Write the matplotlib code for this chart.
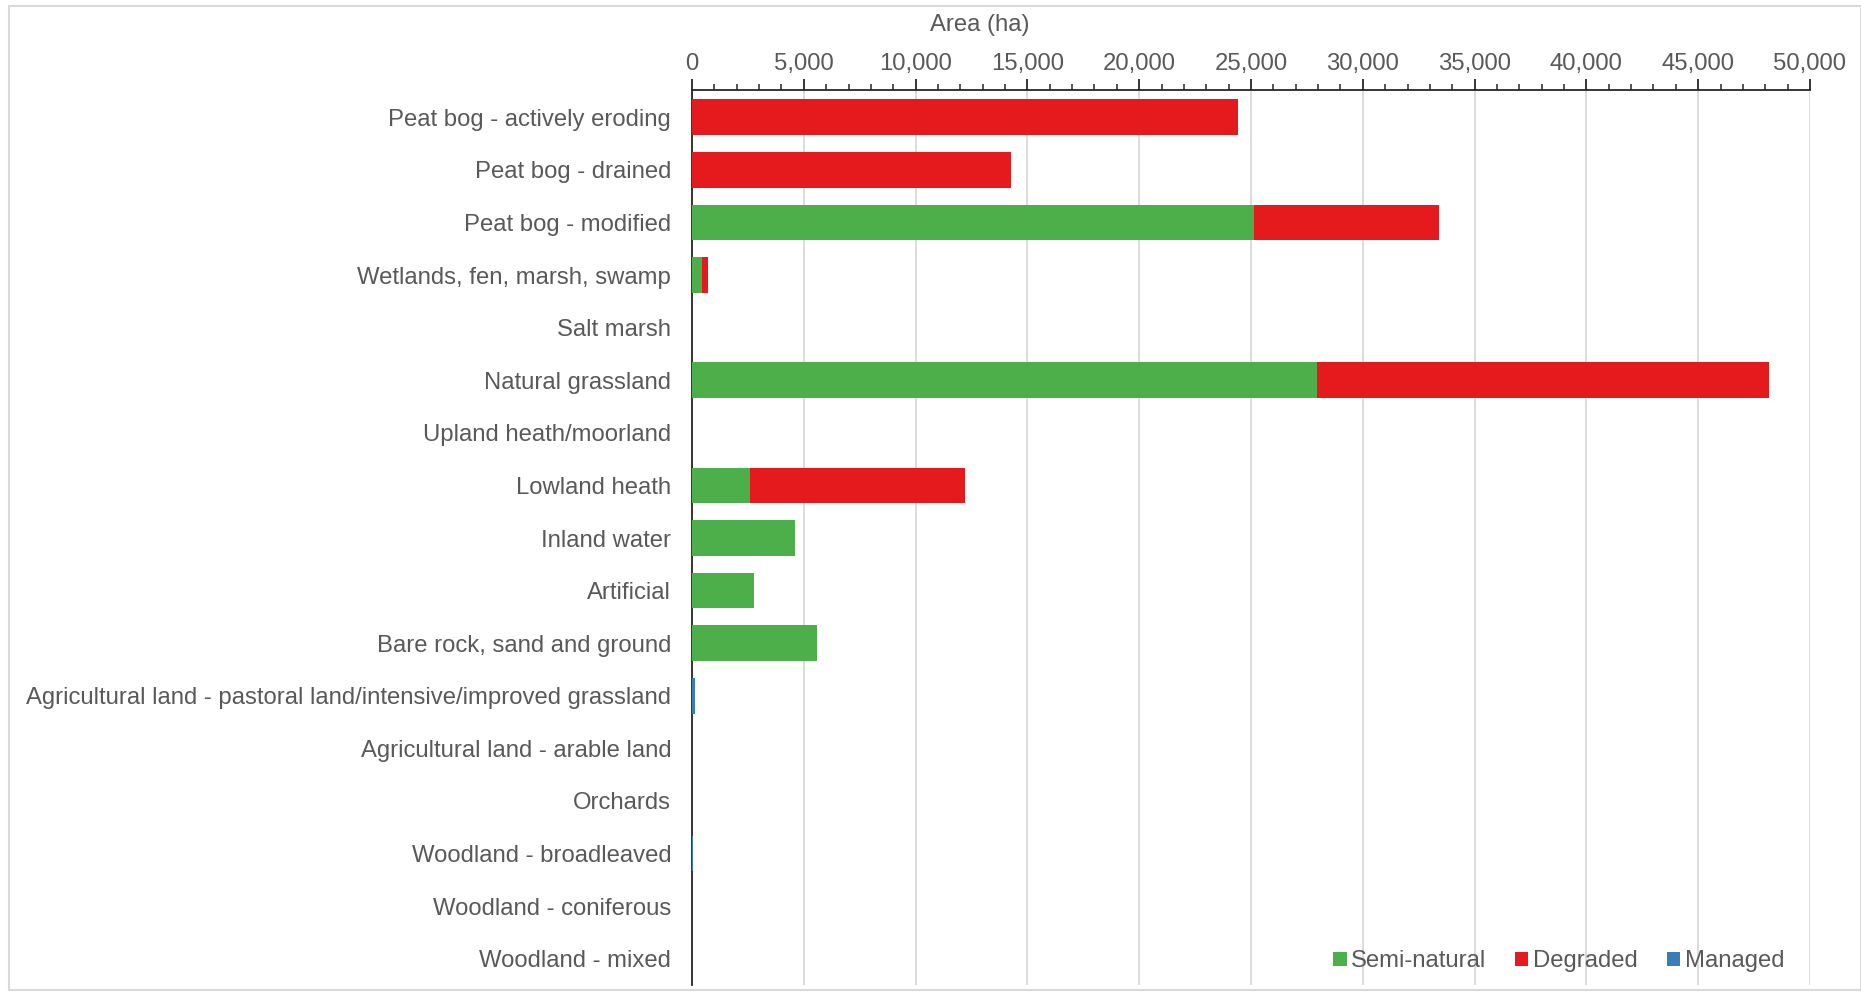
import numpy as np
import matplotlib.pyplot as plt
from matplotlib.ticker import MultipleLocator, FuncFormatter
from matplotlib.patches import Rectangle

plt.rcParams['font.family'] = ['Liberation Sans', 'DejaVu Sans']

categories = [
    'Peat bog - actively eroding',
    'Peat bog - drained',
    'Peat bog - modified',
    'Wetlands, fen, marsh, swamp',
    'Salt marsh',
    'Natural grassland',
    'Upland heath/moorland',
    'Lowland heath',
    'Inland water',
    'Artificial',
    'Bare rock, sand and ground',
    'Agricultural land - pastoral land/intensive/improved grassland',
    'Agricultural land - arable land',
    'Orchards',
    'Woodland - broadleaved',
    'Woodland - coniferous',
    'Woodland - mixed',
]
semi_natural = [0, 0, 25150, 450, 0, 27950, 0, 2600, 4620, 2760, 5570, 0, 0, 0, 0, 0, 0]
degraded = [24400, 14280, 8280, 270, 0, 20220, 0, 9600, 0, 0, 0, 0, 0, 0, 0, 0, 0]
managed = [0, 0, 0, 0, 0, 0, 0, 0, 0, 0, 0, 150, 0, 0, 30, 0, 0]

green = '#4daf4a'
red = '#e41a1c'
blue = '#377eb8'
grey_text = '#595959'
fs = 17.2

fig = plt.figure(figsize=(18.61, 9.93), dpi=100)
ax = fig.add_axes([692 / 1861, 1 - 985 / 993, (1810 - 692) / 1861, (985 - 90) / 993])

y = np.arange(len(categories))
semi = np.array(semi_natural)
deg = np.array(degraded)
man = np.array(managed)
h = 0.68
ax.barh(y, semi, height=h, color=green, label='Semi-natural', zorder=3)
ax.barh(y, deg, left=semi, height=h, color=red, label='Degraded', zorder=3)
ax.barh(y, man, left=semi + deg, height=h, color=blue, label='Managed', zorder=3)

ax.set_ylim(16.5, -0.52)
ax.set_xlim(0, 50000)
ax.set_yticks(y)
ax.set_yticklabels(categories, fontsize=fs, color=grey_text)
ax.tick_params(axis='y', length=0, pad=15)

ax.xaxis.tick_top()
ax.xaxis.set_label_position('top')
ax.xaxis.set_major_locator(MultipleLocator(5000))
ax.xaxis.set_minor_locator(MultipleLocator(1000))
ax.xaxis.set_major_formatter(FuncFormatter(lambda v, p: f'{int(v):,}'))
ax.tick_params(axis='x', which='major', length=8, width=1.3, color='#262626',
               labelsize=fs, labelcolor=grey_text, pad=3)
ax.tick_params(axis='x', which='minor', length=4, width=1.1, color='#262626')
ax.set_xlabel('Area (ha)', fontsize=fs, color=grey_text)
ax.xaxis.set_label_coords(0.257, 1.066)

ax.grid(axis='x', color='#d9d9d9', linewidth=1.3, zorder=0)
for s in ['right', 'bottom']:
    ax.spines[s].set_visible(False)
ax.spines['top'].set_color('#262626')
ax.spines['top'].set_linewidth(1.3)
ax.spines['left'].set_color('#262626')
ax.spines['left'].set_linewidth(1.3)

leg = ax.legend(loc='lower right', bbox_to_anchor=(0.996, -0.01), ncol=3, frameon=False,
                fontsize=fs, handlelength=0.55, handleheight=0.55, handletextpad=0.2,
                columnspacing=1.2)
for t in leg.get_texts():
    t.set_color(grey_text)

fig.patches.append(Rectangle((9 / 1861, 3 / 993), 1 - 9 / 1861, 1 - 9 / 993,
                             transform=fig.transFigure, fill=False,
                             edgecolor='#d9d9d9', linewidth=1.5))

fig.savefig('out.png', dpi=100)
